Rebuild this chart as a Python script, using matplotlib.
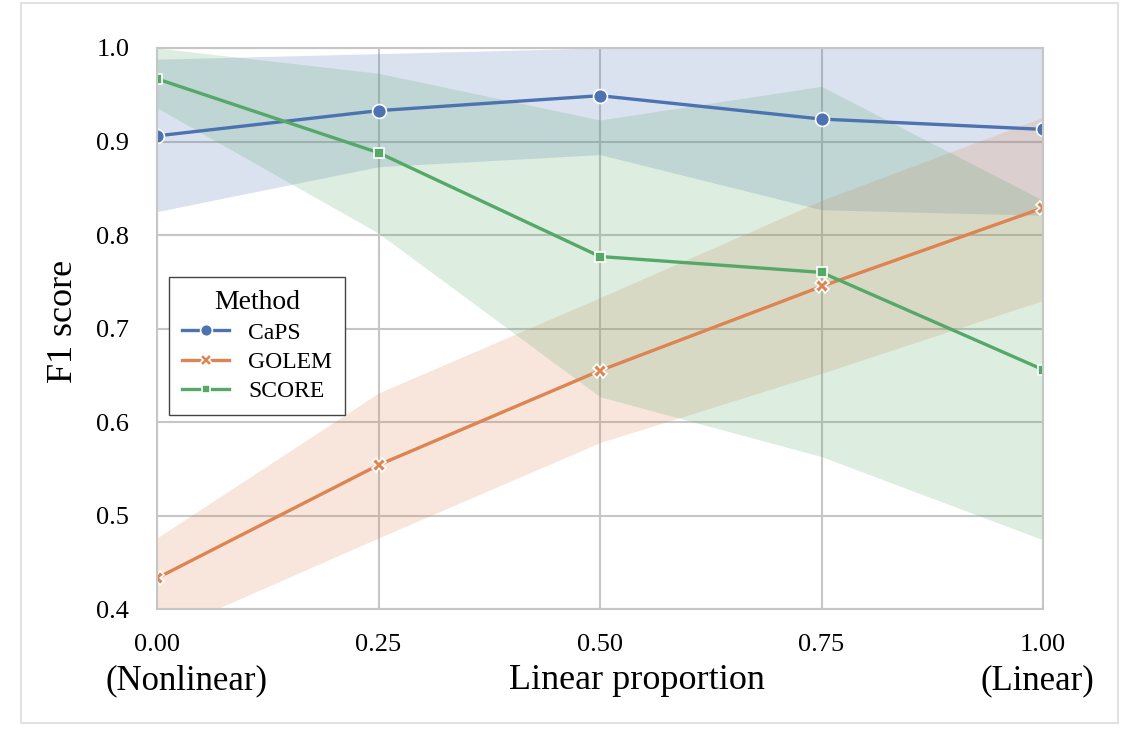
import numpy as np
import matplotlib
matplotlib.use("Agg")
from matplotlib import pyplot as plt
from matplotlib.patches import Rectangle

# values
proportion = [0.0, 0.25, 0.5, 0.75, 1.0]
tick_labels = ["0.00", "0.25", "0.50", "0.75", "1.00"]
methods = ["CaPS", "GOLEM", "SCORE"]

caps_mean = [0.906, 0.933, 0.949, 0.924, 0.913]
caps_lo = [0.825, 0.873, 0.886, 0.827, 0.821]
caps_hi = [0.988, 0.994, 1.0, 1.0, 1.0]

golem_mean = [0.433, 0.554, 0.655, 0.745, 0.829]
golem_lo = [0.372, 0.476, 0.578, 0.652, 0.730]
golem_hi = [0.476, 0.631, 0.733, 0.837, 0.926]

score_mean = [0.967, 0.888, 0.777, 0.760, 0.656]
score_lo = [0.936, 0.802, 0.627, 0.563, 0.474]
score_hi = [1.0, 0.973, 0.923, 0.959, 0.837]

colors = ["#4C72B0", "#DD8452", "#55A868"]
markers = ["o", "X", "s"]
msizes = [10, 10, 7.5]

plt.rcParams['font.family'] = ['Liberation Serif', 'DejaVu Serif']

fig = plt.figure(figsize=(11.25, 7.29), dpi=100)
fig.patches.append(Rectangle((21/1125, 1-723/729), 1097/1125, 720/729,
                             transform=fig.transFigure, facecolor="white",
                             edgecolor="#e2e2e2", lw=1.5, zorder=-10))
ax = fig.add_axes([157/1125, 1-609/729, 886/1125, 561/729])

means = [caps_mean, golem_mean, score_mean]
los = [caps_lo, golem_lo, score_lo]
his = [caps_hi, golem_hi, score_hi]
for i in range(3):
	ax.fill_between(proportion, los[i], his[i], color=colors[i], alpha=0.2, lw=0)
for i in range(3):
	ax.plot(proportion, means[i], color=colors[i], lw=2.4, marker=markers[i],
	        markersize=msizes[i], markeredgecolor="white", markeredgewidth=1.2,
	        label=methods[i])

ax.set_xlim(0, 1)
ax.set_ylim(0.4, 1.0)
ax.set_xticks(proportion)
ax.set_xticklabels(tick_labels)
ax.set_yticks([0.4, 0.5, 0.6, 0.7, 0.8, 0.9, 1.0])
ax.set_yticklabels(["0.4", "0.5", "0.6", "0.7", "0.8", "0.9", "1.0"])
ax.tick_params(axis="x", length=0, pad=18, labelsize=19)
ax.tick_params(axis="y", length=0, pad=20, labelsize=19)
ax.grid(True, color="#c6c6c6", lw=1.5)
ax.set_axisbelow(True)
for s in ax.spines.values():
	s.set_color("#c6c6c6")
	s.set_linewidth(1.5)

ax.text(0.033, -0.1426, "(Nonlinear)", transform=ax.transAxes, ha="center",
        va="baseline", fontsize=25)
ax.text(0.994, -0.1426, "(Linear)", transform=ax.transAxes, ha="center",
        va="baseline", fontsize=25)
ax.text(0.542, -0.1426, "Linear proportion", transform=ax.transAxes,
        ha="center", va="baseline", fontsize=26)
ax.text(-0.106, 0.5125, "F1 score", transform=ax.transAxes, ha="center",
        va="center", rotation=90, fontsize=26)

leg = ax.legend(title="Method", loc="lower left", bbox_to_anchor=(0.0135, 0.346),
                borderaxespad=0, fontsize=17, title_fontsize=20, fancybox=False,
                framealpha=1, edgecolor="#444444", markerscale=0.85,
                labelspacing=0.32, handlelength=2.0, borderpad=0.55)
leg.get_frame().set_linewidth(1.0)

fig.savefig("out.png", dpi=100)
